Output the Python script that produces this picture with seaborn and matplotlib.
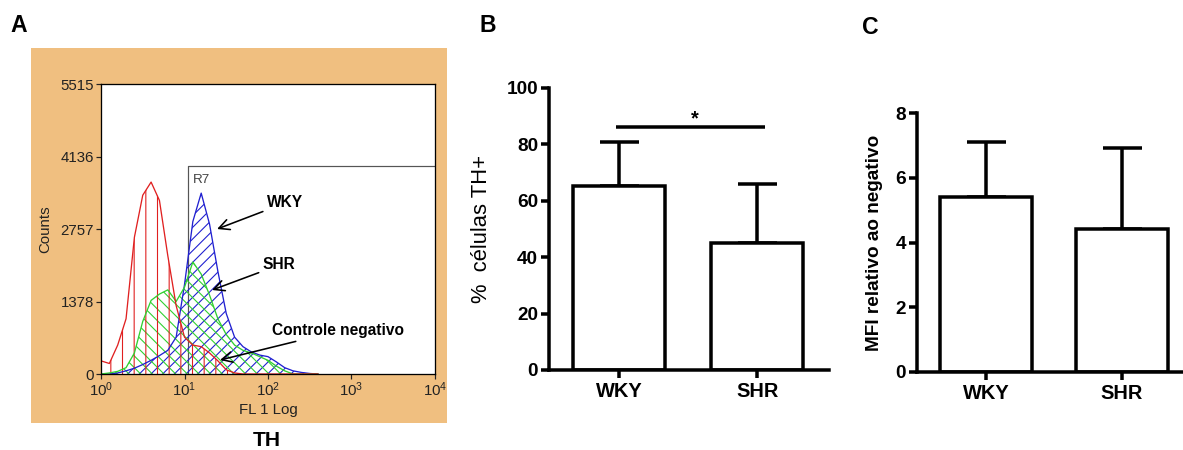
import numpy as np
import matplotlib.pyplot as plt
import seaborn as sns
from matplotlib.patches import Rectangle

# Valeurs
# A - histogrammes de cytométrie (position en log10 de FL1, nombre d'événements)
fl_log = [0.0, 0.1, 0.2, 0.3, 0.4, 0.5, 0.6, 0.7, 0.8, 0.9, 1.0, 1.1, 1.2, 1.3,
          1.4, 1.5, 1.6, 1.7, 1.8, 1.9, 2.0, 2.1, 2.2, 2.3, 2.4, 2.5, 2.6]
counts_controle = [250, 200, 550, 1050, 2600, 3400, 3650, 3300, 2250, 1300, 700, 550, 520, 400,
                   250, 80, 20, 0, 0, 0, 0, 0, 0, 0, 0, 0, 0]
counts_shr = [0, 20, 50, 120, 400, 1000, 1400, 1520, 1600, 1380, 1650, 2130, 1900, 1500,
              1050, 750, 550, 450, 400, 330, 260, 150, 60, 0, 0, 0, 0]
counts_wky = [0, 0, 20, 60, 110, 180, 260, 350, 450, 700, 1700, 2900, 3440, 2850,
              1950, 1150, 700, 520, 420, 360, 330, 230, 120, 60, 30, 10, 0]
count_ticks = [0, 1378, 2757, 4136, 5515]
fl_ticks = [1, 10, 100, 1000, 10000]
r7_debut = 11
r7_hauteur = 3950

# B et C - moyennes et erreurs
groupes = ['WKY', 'SHR']
pct_th = [65.2, 45.0]
pct_th_err = [15.8, 21.0]
pct_ticks = [0, 20, 40, 60, 80, 100]
hauteur_signif = 86
mfi = [5.4, 4.42]
mfi_err = [1.7, 2.5]
mfi_ticks = [0, 2, 4, 6, 8]

# Style
DPI = 70
W, H = 1183, 450


def px(v):
    # pixels -> points
    return v * 72 / DPI


def boite(gauche, haut, droite, bas):
    return [gauche / W, 1 - bas / H, (droite - gauche) / W, (bas - haut) / H]


sns.set_style('ticks')
plt.rcParams['font.family'] = ['Liberation Sans', 'DejaVu Sans']
plt.rcParams['mathtext.fontset'] = 'custom'
plt.rcParams['mathtext.rm'] = 'Liberation Sans'
plt.rcParams['hatch.linewidth'] = px(1.1)
for cle in ['axes.edgecolor', 'text.color', 'xtick.color', 'ytick.color', 'axes.labelcolor']:
    plt.rcParams[cle] = 'black'

fig = plt.figure(figsize=(W / DPI, H / DPI), dpi=DPI)

# ---------- A ----------
fig.add_artist(Rectangle((31 / W, 1 - 423 / H), 416 / W, 375 / H, transform=fig.transFigure,
                         facecolor='#F0BF80', edgecolor='none', zorder=-1))
axA = fig.add_axes(boite(101, 84, 435, 374))
axA.set_facecolor('white')
fl = 10 ** np.array(fl_log)

series = [(counts_wky, '#2020d0', '//'), (counts_shr, '#30d030', '\\\\'), (counts_controle, '#e02020', '|')]
for counts, couleur, motif in series:
    axA.fill_between(fl, counts, 0, facecolor='none', edgecolor=couleur, hatch=motif, linewidth=0)
    sns.lineplot(x=fl, y=counts, color=couleur, linewidth=px(1.3), ax=axA)

axA.plot([r7_debut, r7_debut, fl_ticks[-1]], [0, r7_hauteur, r7_hauteur], color='#555555', lw=px(1.2), zorder=0.5)
axA.text(12.6, 3690, 'R7', ha='left', va='center', fontsize=px(13.5), color='#444444')

axA.set_xscale('log')
axA.set_xlim(fl_ticks[0], fl_ticks[-1])
axA.set_ylim(count_ticks[0], count_ticks[-1])
axA.set_xticks(fl_ticks)
axA.xaxis.set_minor_locator(plt.NullLocator())
axA.set_yticks(count_ticks)
axA.tick_params(labelsize=px(15), length=px(5), width=px(1.2), colors='#222222', pad=px(2))
axA.tick_params(axis='x', pad=px(1.5))
for s in axA.spines.values():
    s.set_linewidth(px(1.3))
axA.set_xlabel('FL 1 Log', fontsize=px(15), color='#222222')
axA.xaxis.set_label_coords(0.5, -0.1)
axA.set_ylabel('Counts', fontsize=px(15), color='#222222')
axA.yaxis.set_label_coords(-0.147, 0.5)

fleche = dict(arrowstyle='->, head_length=0.7, head_width=0.35', color='black', lw=px(1.6),
              mutation_scale=px(15), shrinkA=2, shrinkB=0)
annot = dict(ha='left', va='center', fontsize=px(15.5), fontweight='bold', arrowprops=fleche)
axA.annotate('WKY', xy=(10 ** 1.39, 2757), xytext=(10 ** 1.99, 3252), **annot)
axA.annotate('SHR', xy=(10 ** 1.33, 1597), xytext=(10 ** 1.94, 2073), **annot)
axA.annotate('Controle negativo', xy=(10 ** 1.425, 266), xytext=(10 ** 2.05, 818), **annot)

fig.text(267 / W, 1 - 440 / H, 'TH', ha='center', va='center', fontsize=px(21), fontweight='bold')


# ---------- B et C ----------
def barres(ax, valeurs, erreurs, ticks, largeur):
    lw = px(3.5)
    sns.barplot(x=groupes, y=valeurs, color='white', edgecolor='black', linewidth=lw,
                width=largeur, errorbar=None, ax=ax)
    ax.errorbar(range(len(groupes)), valeurs, yerr=[np.zeros(len(groupes)), erreurs],
                fmt='none', ecolor='black', elinewidth=lw, capsize=px(19.5), capthick=lw, zorder=0.5)
    ax.set_ylim(ticks[0], ticks[-1])
    ax.set_yticks(ticks)
    sns.despine(ax=ax)
    for s in ax.spines.values():
        s.set_linewidth(lw)
    ax.tick_params(labelsize=px(19), length=px(8), width=lw, pad=px(3))
    ax.tick_params(axis='x', labelsize=px(20), pad=px(4))
    for lbl in ax.get_xticklabels() + ax.get_yticklabels():
        lbl.set_fontweight('bold')
    ax.set_xlabel('')
    ax.set_facecolor('none')


axB = fig.add_axes(boite(549, 88, 829, 370))
barres(axB, pct_th, pct_th_err, pct_ticks, 0.67)
axB.set_xlim(-0.507, 1.52)
axB.hlines(hauteur_signif, -0.02, 1.06, color='black', lw=px(3.5))
axB.text(0.55, hauteur_signif - 0.5, '*', ha='center', va='bottom', fontsize=px(20), fontweight='bold')
axB.set_ylabel('%  células TH+', fontsize=px(22))
axB.yaxis.set_label_coords(-0.204, 0.5)

axC = fig.add_axes(boite(917, 113, 1183, 372))
barres(axC, mfi, mfi_err, mfi_ticks, 0.676)
axC.set_xlim(-0.507, 1.45)
axC.set_ylabel('MFI relativo ao negativo', fontsize=px(19), fontweight='bold')
axC.yaxis.set_label_coords(-0.128, 0.5)

# Lettres des panneaux
for lettre, x, y in [('A', 19, 26), ('B', 488, 26), ('C', 870, 27)]:
    fig.text(x / W, 1 - y / H, lettre, ha='center', va='center', fontsize=px(23), fontweight='heavy')

fig.savefig('out.png', dpi=DPI)
